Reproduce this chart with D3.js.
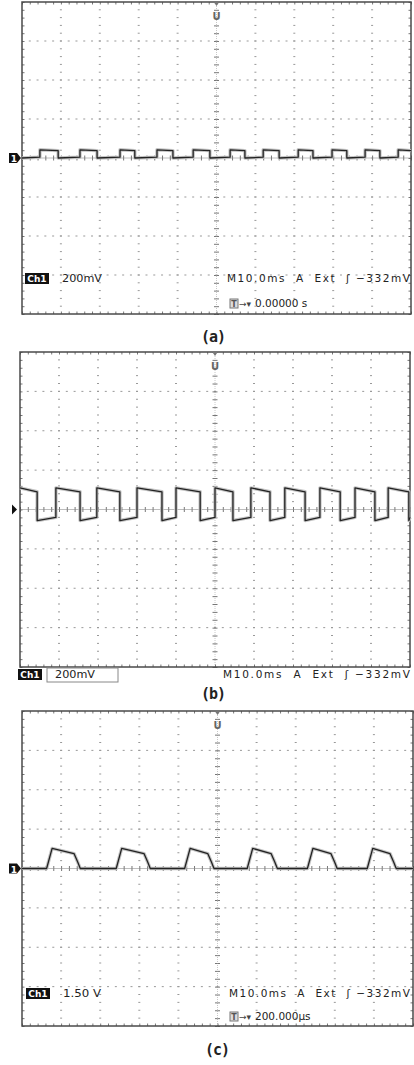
<!DOCTYPE html>
<html>
<head>
<meta charset="utf-8">
<script src="https://cdn.jsdelivr.net/npm/d3@7"></script>
<style>
  body { margin: 0; background: #fff; }
  svg { display: block; }
</style>
</head>
<body>
<svg id="ecran" width="414" height="1065"></svg>
<script>
// DONNÉES (en divisions d'écran : 10 div. en x, ±4 div. en y)
// (a) : petits créneaux, on part du niveau bas
const montantsA = [0.46, 1.49, 2.52, 3.47, 4.40, 5.35, 6.20, 7.10, 7.97, 8.82, 9.67]
const descentesA = [0.93, 1.93, 2.90, 3.88, 4.83, 5.73, 6.61, 7.48, 8.35, 9.20]
const niveauxA = [0.21, 0.19, 0.0, 0.02] // haut début, haut fin, bas début, bas fin

// (b) : créneaux autour de la masse, on part du niveau haut
const descentesB = [0.44, 1.54, 2.56, 3.64, 4.62, 5.46, 6.41, 7.31, 8.21, 9.10, 9.97]
const montantsB = [0.92, 1.97, 3.00, 4.00, 5.00, 5.92, 6.79, 7.69, 8.59, 9.44]
const niveauxB = [0.55, 0.45, -0.28, -0.20]

// (c) : impulsions positives
const montantsC = [0.70, 2.48, 4.23, 5.83, 7.37, 8.90]
const descentesC = [1.41, 3.20, 4.83, 6.45, 7.98, 9.49]
const niveauxC = [0.51, 0.38, 0.0] // sommet début, sommet fin, repos

// Textes
const legendes = ['(a)', '(b)', '(c)']
const calibres = ['200mV', '200mV', '1.50 V']
const lignesHorizontales = [
    'M10.0ms  A  Ext  \u0283 \u2212332mV',
    'M10.0ms  A  Ext  \u0283 \u2212332mV',
    'M10.0ms  A  Ext  \u0283 \u2212332mV'
]
const retards = ['0.00000 s', '', '200.000\u00b5s']

// GÉOMÉTRIE DES TROIS ÉCRANS
const panneaux = [
    {gauche: 22, haut: 2, droite: 411, bas: 314},
    {gauche: 20, haut: 352, droite: 410, bas: 667},
    {gauche: 22, haut: 711, droite: 413, bas: 1026}
]

const svg = d3.select('#ecran')
const police = "'DejaVu Sans', Verdana, sans-serif"

/**
 * Construit la liste de points d'un créneau à partir des fronts.
 */
function construireCreneau(montants, descentes, departHaut, niveaux){
    const fronts = montants.map(t => ({t: t, haut: true}))
        .concat(descentes.map(t => ({t: t, haut: false})))
        .sort((a, b) => a.t - b.t)
    let etatHaut = departHaut
    const points = [[0, etatHaut ? niveaux[0] : niveaux[2]]]
    fronts.forEach(f => {
        points.push([f.t, etatHaut ? niveaux[1] : niveaux[3]])
        etatHaut = f.haut
        points.push([f.t, etatHaut ? niveaux[0] : niveaux[2]])
    })
    points.push([10, etatHaut ? niveaux[1] : niveaux[3]])
    return points
}

/**
 * Liste de points des impulsions (c), fronts un peu inclinés.
 */
function construireImpulsions(montants, descentes, niveaux){
    const points = [[0, niveaux[2]]]
    montants.forEach((m, i) => {
        const d = descentes[i]
        points.push([m - 0.07, niveaux[2]])
        points.push([m + 0.07, niveaux[0]])
        points.push([d - 0.08, niveaux[1]])
        points.push([d + 0.02, niveaux[1] * 0.4])
        points.push([d + 0.08, niveaux[2]])
    })
    points.push([10, niveaux[2]])
    return points
}

/**
 * Dessine la graticule d'un écran d'oscilloscope.
 */
function dessinerGraticule(g, x, y){
    const pasFin = d3.range(0, 10.001, 0.2)
    const pasFinY = d3.range(-4, 4.001, 0.2)

    // Lignes verticales en pointillé
    d3.range(1, 10).filter(i => i !== 5).forEach(i => {
        g.append('g').selectAll('rect')
            .data(pasFinY.slice(1, -1))
            .join('rect')
            .attr('x', x(i) - 1)
            .attr('y', d => y(d) - 0.5)
            .attr('width', 2)
            .attr('height', 1)
            .attr('fill', '#999')
    })
    // Lignes horizontales en pointillé
    d3.range(-3, 4).filter(j => j !== 0).forEach(j => {
        g.append('g').selectAll('rect')
            .data(pasFin.slice(1, -1))
            .join('rect')
            .attr('x', d => x(d) - 1)
            .attr('y', y(j) - 0.5)
            .attr('width', 2)
            .attr('height', 1)
            .attr('fill', '#999')
    })

    // Axes centraux avec leurs graduations
    g.append('line')
        .attr('x1', x(5)).attr('x2', x(5))
        .attr('y1', y(4)).attr('y2', y(-4))
        .style('stroke', '#c8c8c8').style('stroke-width', 1)
        .style('stroke-dasharray', '1,1')
    g.append('line')
        .attr('x1', x(0)).attr('x2', x(10))
        .attr('y1', y(0)).attr('y2', y(0))
        .style('stroke', '#bdbdbd').style('stroke-width', 1)

    const graduationsCentre = [
        d3.axisLeft(y).tickValues(pasFinY).tickSize(2.5),
        d3.axisRight(y).tickValues(pasFinY).tickSize(2.5)
    ]
    graduationsCentre.forEach(axe => {
        g.append('g').attr('transform', `translate(${x(5)},0)`).call(axe)
    })
    const graduationsHoriz = [
        d3.axisTop(x).tickValues(pasFin).tickSize(2.5),
        d3.axisBottom(x).tickValues(pasFin).tickSize(2.5)
    ]
    graduationsHoriz.forEach(axe => {
        g.append('g').attr('transform', `translate(0,${y(0)})`).call(axe)
    })

    // Cadre avec graduations vers l'intérieur
    g.append('g').attr('transform', `translate(0,${y(4)})`)
        .call(d3.axisBottom(x).tickValues(pasFin).tickSize(2.5))
    g.append('g').attr('transform', `translate(0,${y(-4)})`)
        .call(d3.axisTop(x).tickValues(pasFin).tickSize(2.5))
    g.append('g').attr('transform', `translate(${x(0)},0)`)
        .call(d3.axisRight(y).tickValues(pasFinY).tickSize(2.5))
    g.append('g').attr('transform', `translate(${x(10)},0)`)
        .call(d3.axisLeft(y).tickValues(pasFinY).tickSize(2.5))

    g.selectAll('.domain').remove()
    g.selectAll('.tick text').remove()
    g.selectAll('.tick line').style('stroke', '#777').style('stroke-width', 1)

    g.append('rect')
        .attr('x', x(0)).attr('y', y(4))
        .attr('width', x(10) - x(0)).attr('height', y(-4) - y(4))
        .attr('fill', 'none')
        .style('stroke', '#4a4a4a').style('stroke-width', 1.5)
}

/**
 * Dessine la trace du signal.
 */
function dessinerTrace(g, x, y, points){
    const ligne = d3.line().x(d => x(d[0])).y(d => y(d[1]))
    g.append('path').datum(points)
        .attr('d', ligne).attr('fill', 'none')
        .style('stroke', '#c4c4c4').style('stroke-width', 3.4)
        .style('stroke-linejoin', 'round')
    g.append('path').datum(points)
        .attr('d', ligne).attr('fill', 'none')
        .style('stroke', '#222').style('stroke-width', 1.3)
        .style('stroke-linejoin', 'round')
}

/**
 * Marqueurs : déclenchement en haut, masse à gauche.
 */
function dessinerMarqueurs(g, x, y, i){
    const xc = x(5), yh = y(4)
    g.append('path')
        .attr('d', `M${xc - 3.5},${yh - 1} L${xc + 3.5},${yh - 1} L${xc},${yh + 4} Z`)
        .attr('fill', '#777')
    g.append('text')
        .attr('x', xc).attr('y', yh + 18)
        .attr('text-anchor', 'middle')
        .style('font-family', police).style('font-size', '10px').style('font-weight', 'bold')
        .style('fill', '#666')
        .text('U')

    const y0 = y(0)
    if (i === 1) {
        g.append('path')
            .attr('d', `M12,${y0 - 5} L17,${y0} L12,${y0 + 5} Z`)
            .attr('fill', '#111')
    } else {
        g.append('path')
            .attr('d', `M9,${y0 - 5} L17,${y0 - 5} L21,${y0} L17,${y0 + 5} L9,${y0 + 5} Z`)
            .attr('fill', '#111')
        g.append('text')
            .attr('x', 14).attr('y', y0 + 4)
            .attr('text-anchor', 'middle')
            .style('font-family', police).style('font-size', '9px').style('font-weight', 'bold')
            .style('fill', '#fff')
            .text('1')
    }
}

/**
 * Textes de réglage de l'oscilloscope.
 */
function dessinerReglages(g, i, xCh, yLigne, yRetard, xLigne){
    // Boîte Ch1
    g.append('rect')
        .attr('x', xCh).attr('y', yLigne - 9)
        .attr('width', 24).attr('height', 11)
        .attr('fill', '#111')
    g.append('text')
        .attr('x', xCh + 12).attr('y', yLigne)
        .attr('text-anchor', 'middle')
        .style('font-family', police).style('font-size', '9px').style('font-weight', 'bold')
        .style('fill', '#fff')
        .text('Ch1')

    // Calibre vertical
    g.append('text')
        .attr('x', xCh + 37).attr('y', yLigne)
        .style('font-family', police).style('font-size', '10.5px')
        .style('fill', '#222')
        .attr('textLength', calibres[i] === '1.50 V' ? 38 : 40)
        .attr('lengthAdjust', 'spacingAndGlyphs')
        .text(calibres[i])

    // Base de temps et déclenchement, sur une seule ligne
    g.append('text')
        .attr('x', xLigne).attr('y', yLigne)
        .attr('xml:space', 'preserve')
        .style('white-space', 'pre')
        .style('font-family', police).style('font-size', '10.5px')
        .style('fill', '#222')
        .attr('textLength', 410 - xLigne)
        .attr('lengthAdjust', 'spacing')
        .text(lignesHorizontales[i])

    if (retards[i]) {
        g.append('rect')
            .attr('x', 230).attr('y', yRetard - 8)
            .attr('width', 8).attr('height', 9)
            .attr('fill', '#ddd').style('stroke', '#777').style('stroke-width', 1)
        g.append('text')
            .attr('x', 234).attr('y', yRetard)
            .attr('text-anchor', 'middle')
            .style('font-family', police).style('font-size', '8px').style('font-weight', 'bold')
            .style('fill', '#555')
            .text('T')
        g.append('text')
            .attr('x', 239).attr('y', yRetard)
            .style('font-family', police).style('font-size', '9px')
            .style('fill', '#444')
            .text('\u2192\u25be')
        g.append('text')
            .attr('x', 255).attr('y', yRetard)
            .style('font-family', police).style('font-size', '10.5px')
            .style('fill', '#222')
            .text(retards[i])
    }
}

// DESSIN DES TROIS ÉCRANS
const traces = [
    construireCreneau(montantsA, descentesA, false, niveauxA),
    construireCreneau(montantsB, descentesB, true, niveauxB),
    construireImpulsions(montantsC, descentesC, niveauxC)
]
const positionsLegendes = [[213, 342], [213, 699], [217, 1055]]
const positionsReglages = [[25, 282, 307, 227], [18, 678, 0, 223], [26, 997, 1020, 229]]

panneaux.forEach((p, i) => {
    const x = d3.scaleLinear().domain([0, 10]).range([p.gauche, p.droite])
    const y = d3.scaleLinear().domain([-4, 4]).range([p.bas, p.haut])
    const g = svg.append('g')

    dessinerGraticule(g, x, y)
    dessinerTrace(g, x, y, traces[i])
    dessinerMarqueurs(g, x, y, i)

    const [xCh, yLigne, yRetard, xLigne] = positionsReglages[i]
    if (i === 1) {
        // Cadre autour du calibre sous l'écran (b)
        g.append('rect')
            .attr('x', 47).attr('y', 668)
            .attr('width', 71).attr('height', 14)
            .attr('fill', 'none').style('stroke', '#888').style('stroke-width', 1)
    }
    dessinerReglages(g, i, xCh, yLigne, yRetard, xLigne)

    svg.append('text')
        .attr('x', positionsLegendes[i][0]).attr('y', positionsLegendes[i][1])
        .attr('text-anchor', 'middle')
        .style('font-family', "'DejaVu Sans Mono', monospace").style('font-size', '15px')
        .style('font-weight', 'bold').style('letter-spacing', '-1px')
        .style('fill', '#222')
        .text(legendes[i])
})
</script>
</body>
</html>
